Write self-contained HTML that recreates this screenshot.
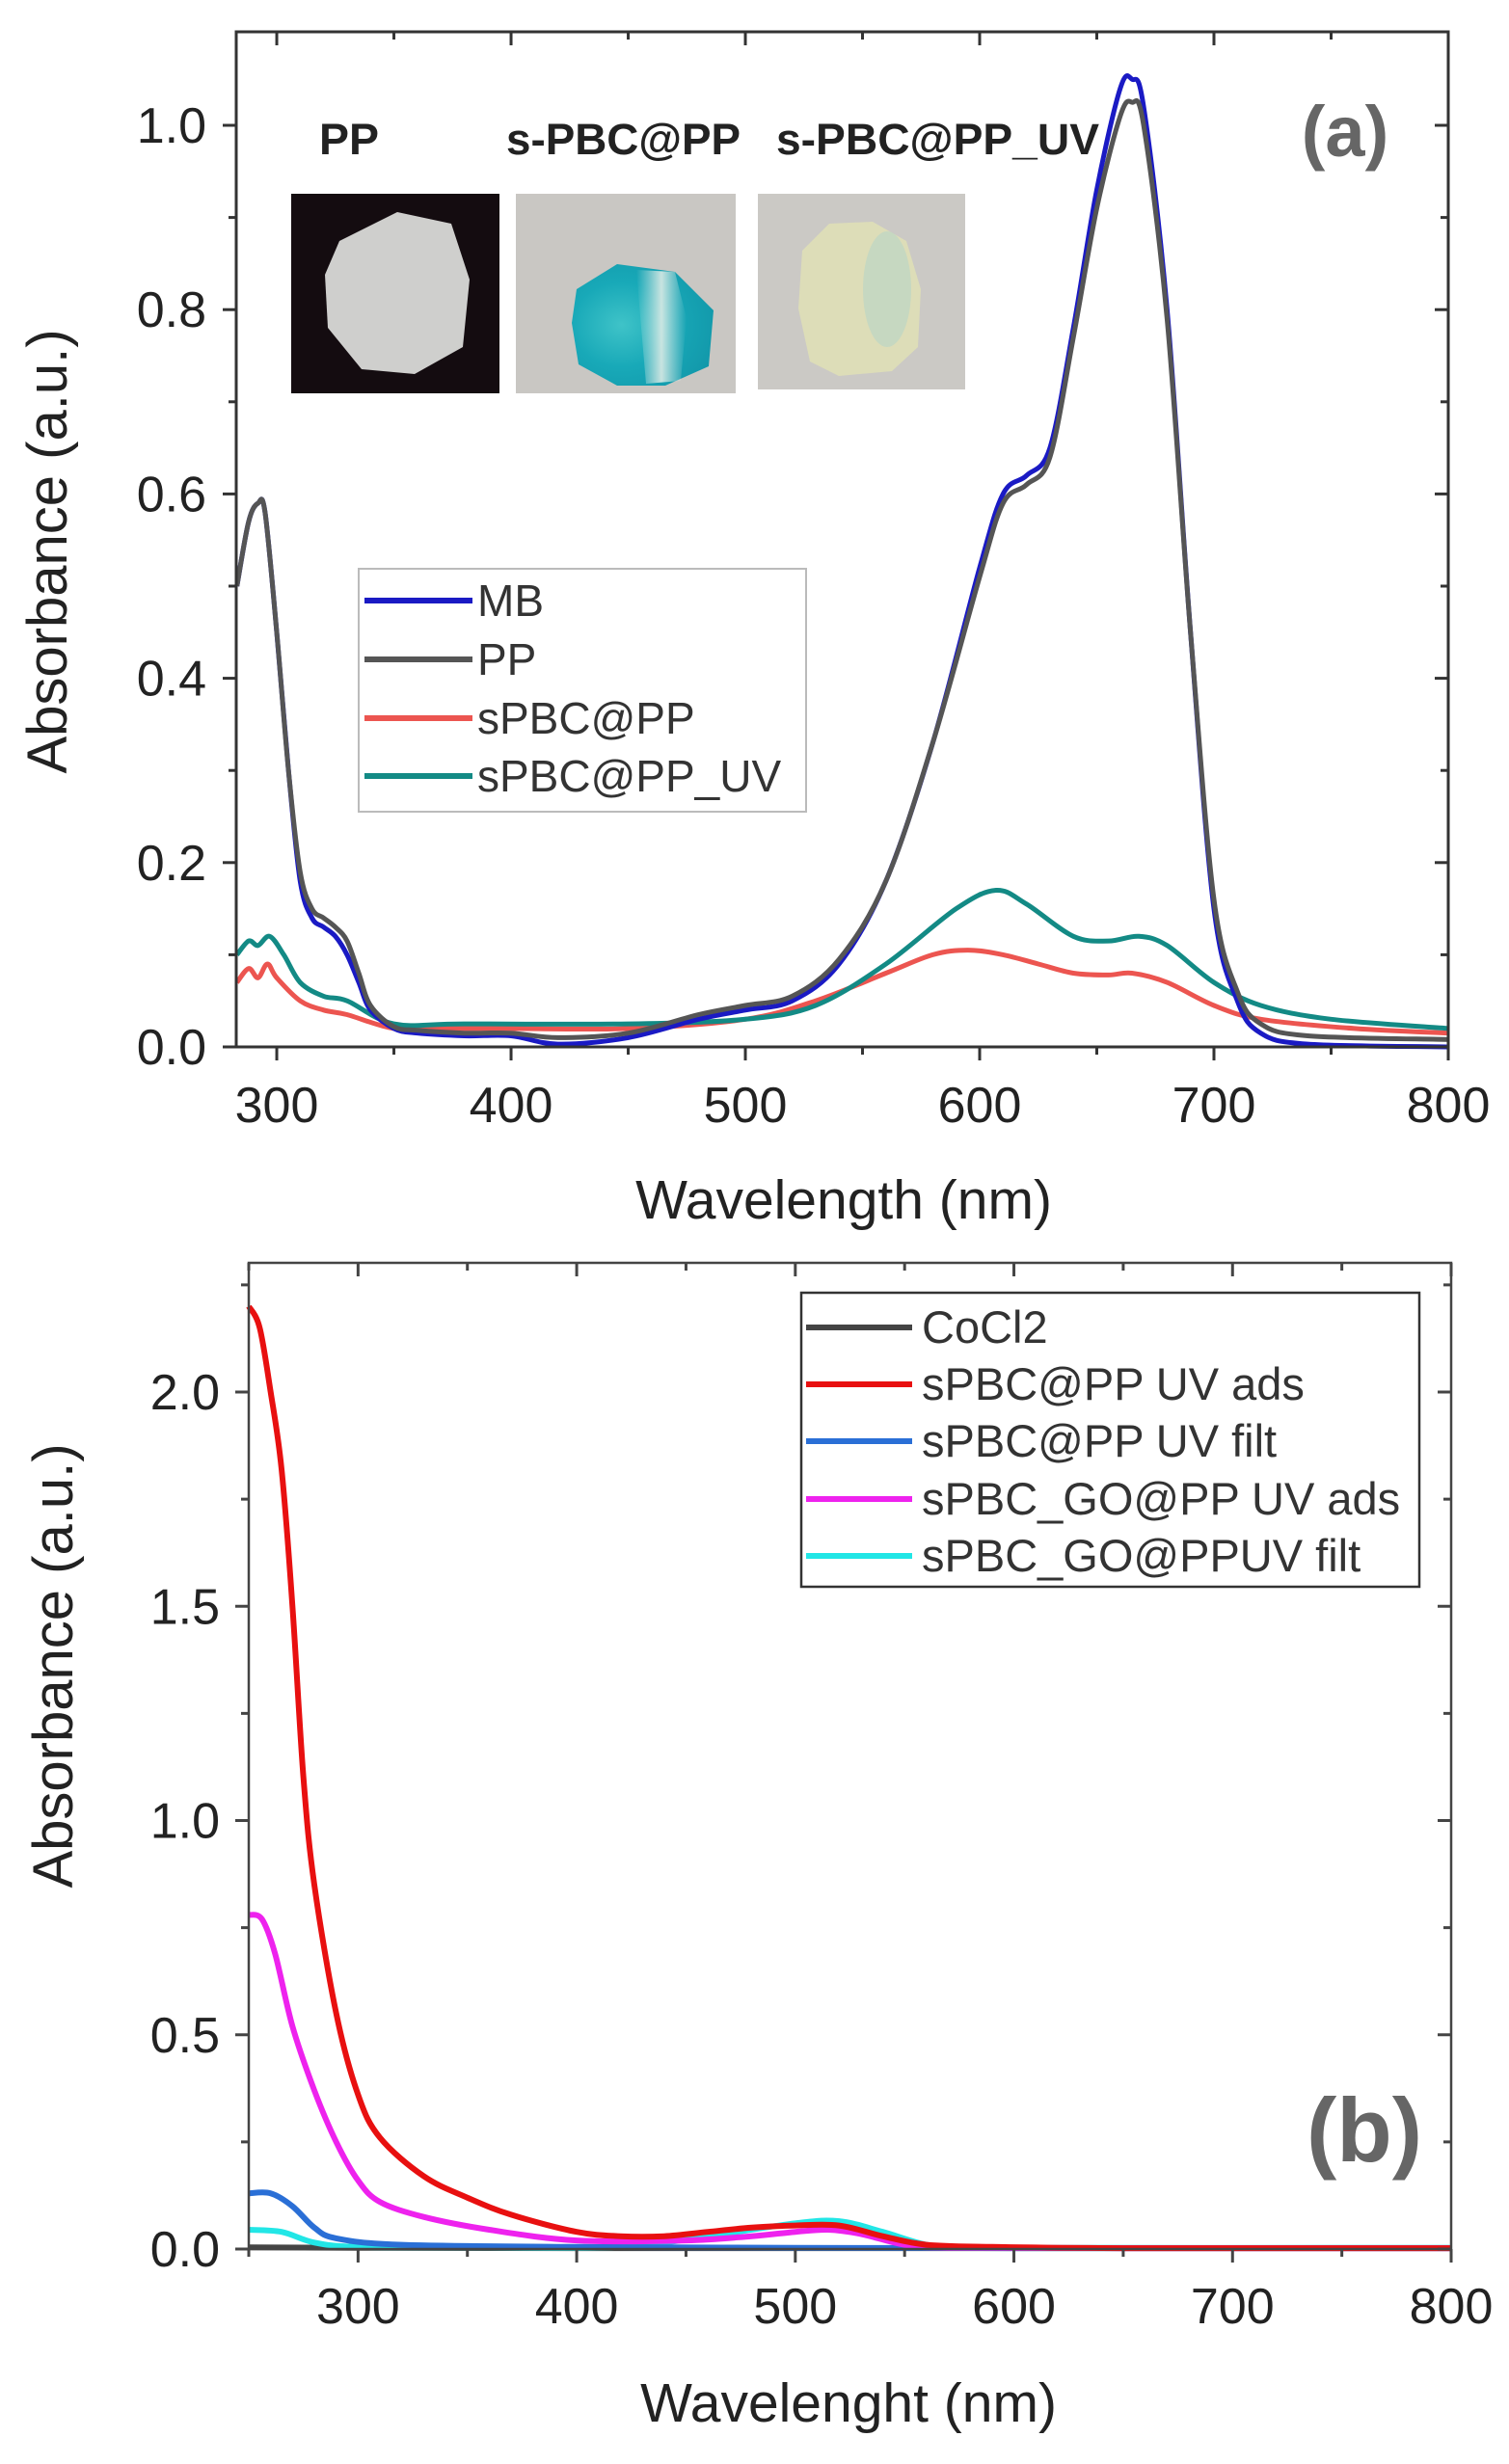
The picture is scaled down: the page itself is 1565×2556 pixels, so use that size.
<!DOCTYPE html>
<html><head><meta charset="utf-8"><style>
html,body{margin:0;padding:0;background:#fff;}
svg{display:block;font-family:"Liberation Sans",Arial,sans-serif;}
</style></head><body>
<svg id="fig" width="1565" height="2556" viewBox="0 0 1565 2556" xmlns="http://www.w3.org/2000/svg">
<defs>
<radialGradient id="gBlue" cx="0.35" cy="0.5" r="0.7"><stop offset="0" stop-color="#3fc3c8"/><stop offset="0.5" stop-color="#18a9b8"/><stop offset="1" stop-color="#1298aa"/></radialGradient>
<linearGradient id="gWhite" x1="0" y1="0" x2="1" y2="0"><stop offset="0" stop-color="#d6e9e6" stop-opacity="0"/><stop offset="0.5" stop-color="#e8efe8"/><stop offset="1" stop-color="#d6e9e6" stop-opacity="0"/></linearGradient>
</defs>
<g id="panelA"></g>
<g id="panelB"></g>
</svg>
<script>
// ---------- Panel (a) data ----------
const aXTicks = [300,400,500,600,700,800];
const aYTicks = [0.0,0.2,0.4,0.6,0.8,1.0];
const aYTickLabels = ["0.0","0.2","0.4","0.6","0.8","1.0"];
const aSeriesNames = ["MB","PP","sPBC@PP","sPBC@PP_UV"];
const aMBx = [283,288,292,295,300,305,310,315,320,325,330,335,340,350,360,380,400,420,450,480,500,520,540,560,580,600,610,620,630,640,650,660,665,670,680,690,700,710,720,740,800];
const aMBy = [0.50,0.57,0.59,0.58,0.45,0.30,0.18,0.14,0.13,0.12,0.10,0.07,0.04,0.02,0.015,0.012,0.012,0.003,0.01,0.03,0.04,0.05,0.09,0.18,0.33,0.52,0.60,0.62,0.65,0.78,0.93,1.04,1.05,1.02,0.80,0.45,0.15,0.05,0.015,0.003,0.0];
const aPPx = [283,288,292,295,300,305,310,315,320,325,330,335,340,350,360,380,400,420,450,480,500,520,540,560,580,600,610,620,630,640,650,660,665,670,680,690,700,710,720,740,800];
const aPPy = [0.50,0.57,0.59,0.58,0.45,0.30,0.19,0.15,0.14,0.13,0.115,0.08,0.045,0.022,0.018,0.015,0.015,0.01,0.015,0.035,0.045,0.055,0.095,0.18,0.33,0.51,0.59,0.61,0.64,0.77,0.91,1.01,1.025,1.0,0.79,0.45,0.16,0.06,0.025,0.012,0.008];
const aRedx = [283,288,292,296,300,310,320,330,350,370,400,450,500,530,560,580,595,610,625,640,655,665,680,700,720,760,800];
const aRedy = [0.07,0.085,0.075,0.09,0.075,0.05,0.04,0.035,0.02,0.02,0.02,0.02,0.03,0.05,0.08,0.10,0.105,0.10,0.09,0.08,0.078,0.08,0.07,0.045,0.03,0.02,0.015];
const aTealx = [283,288,292,297,303,310,320,330,350,380,450,500,530,560,590,607,620,640,655,668,680,700,720,750,800];
const aTealy = [0.10,0.115,0.11,0.12,0.10,0.07,0.055,0.05,0.025,0.025,0.025,0.03,0.045,0.09,0.15,0.17,0.155,0.12,0.115,0.12,0.11,0.07,0.045,0.03,0.02];

// ---------- Panel (b) data ----------
const bXTicks = [300,400,500,600,700,800];
const bYTicks = [0.0,0.5,1.0,1.5,2.0];
const bYTickLabels = ["0.0","0.5","1.0","1.5","2.0"];
const bSeriesNames = ["CoCl2","sPBC@PP UV ads","sPBC@PP UV filt","sPBC_GO@PP UV ads","sPBC_GO@PPUV filt"];
const bCoClx = [250,300,400,500,600,700,800];
const bCoCly = [0.004,0.003,0.002,0.002,0.002,0.002,0.002];
const bRedx = [250,255,260,265,270,275,280,290,300,310,330,350,370,400,420,440,460,480,500,520,540,560,590,650,800];
const bRedy = [2.2,2.15,2.0,1.82,1.5,1.1,0.85,0.55,0.36,0.26,0.17,0.12,0.08,0.04,0.03,0.03,0.04,0.05,0.055,0.055,0.03,0.01,0.005,0.002,0.002];
const bBluex = [250,260,270,280,290,320,400,500,600,800];
const bBluey = [0.13,0.13,0.10,0.05,0.025,0.01,0.005,0.003,0.002,0.002];
const bMagx = [250,256,262,270,280,290,300,310,330,360,400,450,480,500,515,530,550,570,650,800];
const bMagy = [0.78,0.77,0.69,0.52,0.37,0.25,0.16,0.11,0.075,0.045,0.02,0.02,0.03,0.04,0.045,0.035,0.01,0.003,0.002,0.002];
const bCyanx = [250,265,280,300,350,420,460,500,520,540,560,580,800];
const bCyany = [0.045,0.04,0.015,0.005,0.004,0.005,0.03,0.06,0.065,0.04,0.01,0.003,0.003];

const NS = "http://www.w3.org/2000/svg";
function mk(parent, tag, attrs, text){
  const e = document.createElementNS(NS, tag);
  for (const k in attrs) e.setAttribute(k, attrs[k]);
  if (text !== undefined) e.textContent = text;
  parent.appendChild(e);
  return e;
}
function smoothPath(pts){
  let d = 'M'+pts[0][0].toFixed(1)+','+pts[0][1].toFixed(1);
  for (let i=0;i<pts.length-1;i++){
    const p0=pts[Math.max(0,i-1)], p1=pts[i], p2=pts[i+1], p3=pts[Math.min(pts.length-1,i+2)];
    const c1=[p1[0]+(p2[0]-p0[0])/6, p1[1]+(p2[1]-p0[1])/6];
    const c2=[p2[0]-(p3[0]-p1[0])/6, p2[1]-(p3[1]-p1[1])/6];
    d += 'C'+c1[0].toFixed(1)+','+c1[1].toFixed(1)+' '+c2[0].toFixed(1)+','+c2[1].toFixed(1)+' '+p2[0].toFixed(1)+','+p2[1].toFixed(1);
  }
  return d;
}

// ---------- Panel (a) ----------
(function(){
  const g = document.getElementById('panelA');
  const L=245, R=1502, T=33, B=1086;
  const xMin=282.7, xMax=800;
  const xs = v => L + (v-xMin)/(xMax-xMin)*(R-L);
  const ys = v => B - v*956;

  const ins = mk(g,'g',{});
  
  
  let r = mk(ins,'rect',{x:302,y:201,width:216,height:207,fill:'#140c10'});
   
  mk(ins,'polygon',{points:'352,250 412,220 468,232 487,290 480,360 430,388 375,383 340,340 337,285',fill:'#cfcfcd'});
  r = mk(ins,'rect',{x:535,y:201,width:228,height:207,fill:'#c9c7c3'});
   
  mk(ins,'polygon',{points:'598,300 640,274 700,282 740,322 735,380 690,400 640,400 600,378 593,335',fill:'url(#gBlue)'});
  mk(ins,'polygon',{points:'660,280 700,282 712,330 706,395 670,398 665,340',fill:'url(#gWhite)',opacity:0.85});
  r = mk(ins,'rect',{x:786,y:201,width:215,height:203,fill:'#cbc9c5'});
   
  mk(ins,'polygon',{points:'832,260 860,232 905,230 940,250 955,300 952,360 925,385 870,390 840,375 828,320',fill:'#ddddb8'});
  mk(ins,'ellipse',{cx:920,cy:300,rx:25,ry:60,fill:'#b8d6c6',opacity:0.6});
  const labs = [["PP",331,62],["s-PBC@PP",525,243],["s-PBC@PP_UV",805,335]];
  labs.forEach(l=>{
    const t = mk(g,'text',{x:l[1],y:160,'font-size':45,'font-weight':'bold',fill:'#222',textLength:l[2],lengthAdjust:'spacingAndGlyphs'},l[0]);
     
  });

  const series = [[aRedx,aRedy,'#ec5550'],[aTealx,aTealy,'#138a85'],[aMBx,aMBy,'#1a1ac4'],[aPPx,aPPy,'#555555']];
  const names = ['series-spbc-pp','series-spbc-pp-uv','series-mb','series-pp'];
  series.forEach((s,i)=>{
    const d = smoothPath(s[0].map((x,j)=>[xs(x),ys(s[1][j])]));
    const p = mk(g,'path',{d:d,fill:'none',stroke:s[2],'stroke-width':5,'stroke-linejoin':'round'});
    
    
  });

  const fr = mk(g,'rect',{x:L,y:T,width:R-L,height:B-T,fill:'none',stroke:'#333','stroke-width':3});
   
  for (let v=300; v<=800; v+=50){
    const X=xs(v), len = v%100===0?14:8;
    mk(g,'line',{x1:X,y1:B,x2:X,y2:B+len,stroke:'#333','stroke-width':3});
    mk(g,'line',{x1:X,y1:T,x2:X,y2:T+len,stroke:'#333','stroke-width':3});
  }
  for (let k=0; k<=10; k++){
    const v=k/10, Y=ys(v), len = k%2===0?14:8;
    mk(g,'line',{x1:L,y1:Y,x2:L-len,y2:Y,stroke:'#333','stroke-width':3});
    mk(g,'line',{x1:R,y1:Y,x2:R-len,y2:Y,stroke:'#333','stroke-width':3});
  }
  aXTicks.forEach(v=>{
    const t = mk(g,'text',{x:xs(v),y:1164,'text-anchor':'middle','font-size':52,fill:'#222'},String(v));
     
  });
  aYTicks.forEach((v,i)=>{
    const t = mk(g,'text',{x:214,y:ys(v)+18,'text-anchor':'end','font-size':52,fill:'#222'},aYTickLabels[i]);
     
  });
  let t = mk(g,'text',{x:875,y:1264,'text-anchor':'middle','font-size':57,fill:'#222'},'Wavelength (nm)');
   
  t = mk(g,'text',{x:0,y:0,'text-anchor':'middle','font-size':58,fill:'#222',transform:'translate(69,572) rotate(-90)'},'Absorbance (a.u.)');
   
  t = mk(g,'text',{x:1395,y:162,'text-anchor':'middle','font-size':74,'font-weight':'bold',fill:'#666'},'(a)');
   

  const lg = mk(g,'g',{});
   
  mk(lg,'rect',{x:372,y:590,width:464,height:252,fill:'#fff',stroke:'#bbb','stroke-width':2});
  const lc = ['#1a1ac4','#555555','#ec5550','#138a85'];
  const ly = [623,684,745,805];
  aSeriesNames.forEach((n,i)=>{
    const e = mk(lg,'g',{});
     
    mk(e,'line',{x1:378,y1:ly[i],x2:490,y2:ly[i],stroke:lc[i],'stroke-width':6});
    mk(e,'text',{x:495,y:ly[i]+16,'font-size':46,fill:'#333'},n);
  });
})();

// ---------- Panel (b) ----------
(function(){
  const g = document.getElementById('panelB');
  const L=258, R=1505, T=1310, B=2333;
  const xMin=250, xMax=800;
  const ppu = (B-1444)/2.0;
  const xs = v => L + (v-xMin)/(xMax-xMin)*(R-L);
  const ys = v => B - v*ppu;

  const series = [[bCoClx,bCoCly,'#444444'],[bCyanx,bCyany,'#22e6e6'],[bBluex,bBluey,'#2a6fd6'],[bMagx,bMagy,'#ee22ee'],[bRedx,bRedy,'#e81010']];
  const names = ['series-cocl2','series-spbc-go-pp-uv-filt','series-spbc-pp-uv-filt','series-spbc-go-pp-uv-ads','series-spbc-pp-uv-ads'];
  series.forEach((s,i)=>{
    const d = smoothPath(s[0].map((x,j)=>[xs(x),ys(s[1][j])]));
    const p = mk(g,'path',{d:d,fill:'none',stroke:s[2],'stroke-width':6,'stroke-linejoin':'round'});
    
    
  });

  const fr = mk(g,'rect',{x:L,y:T,width:R-L,height:B-T,fill:'none',stroke:'#444','stroke-width':2.5});
   
  for (let v=250; v<=800; v+=50){
    const X=xs(v), len = v%100===0?14:8;
    mk(g,'line',{x1:X,y1:B,x2:X,y2:B+len,stroke:'#444','stroke-width':3});
    mk(g,'line',{x1:X,y1:T,x2:X,y2:T+len,stroke:'#444','stroke-width':3});
  }
  for (let k=0; k<=9; k++){
    const v=k*0.25, Y=ys(v), len = k%2===0?14:8;
    mk(g,'line',{x1:L,y1:Y,x2:L-len,y2:Y,stroke:'#444','stroke-width':3});
    mk(g,'line',{x1:R,y1:Y,x2:R-len,y2:Y,stroke:'#444','stroke-width':3});
  }
  bXTicks.forEach(v=>{
    const t = mk(g,'text',{x:xs(v),y:2410,'text-anchor':'middle','font-size':52,fill:'#222'},String(v));
     
  });
  bYTicks.forEach((v,i)=>{
    const t = mk(g,'text',{x:228,y:ys(v)+18,'text-anchor':'end','font-size':52,fill:'#222'},bYTickLabels[i]);
     
  });
  let t = mk(g,'text',{x:880,y:2512,'text-anchor':'middle','font-size':57,fill:'#222'},'Wavelenght (nm)');
   
  t = mk(g,'text',{x:0,y:0,'text-anchor':'middle','font-size':58,fill:'#222',transform:'translate(75,1728) rotate(-90)'},'Absorbance (a.u.)');
   
  t = mk(g,'text',{x:1415,y:2242,'text-anchor':'middle','font-size':94,'font-weight':'bold',fill:'#666'},'(b)');
   

  const lg = mk(g,'g',{});
   
  mk(lg,'rect',{x:831,y:1341,width:641,height:305,fill:'#fff',stroke:'#333','stroke-width':2.5});
  const lc = ['#444444','#e81010','#2a6fd6','#ee22ee','#22e6e6'];
  const ly = [1377,1436,1495,1555,1614];
  bSeriesNames.forEach((n,i)=>{
    const e = mk(lg,'g',{});
     
    mk(e,'line',{x1:836,y1:ly[i],x2:946,y2:ly[i],stroke:lc[i],'stroke-width':6});
    mk(e,'text',{x:956,y:ly[i]+16,'font-size':47,fill:'#333'},n);
  });
})();
</script>
</body></html>
